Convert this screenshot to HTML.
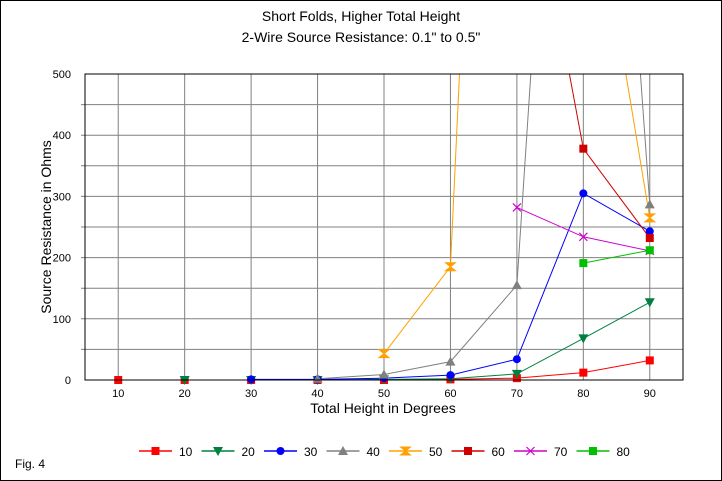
<!DOCTYPE html>
<html><head><meta charset="utf-8"><style>
body{margin:0;background:#fff}
svg{display:block;font-family:"Liberation Sans",Arial,sans-serif}
</style></head><body>
<svg id="c" width="722" height="481" viewBox="0 0 722 481">
<rect x="0.5" y="0.5" width="721" height="480" fill="#fff" stroke="#000"/>
<text x="361" y="21" text-anchor="middle" font-size="14">Short Folds, Higher Total Height</text>
<text x="361" y="42" text-anchor="middle" font-size="14">2-Wire Source Resistance: 0.1" to 0.5"</text>
<text x="383" y="413" text-anchor="middle" font-size="14">Total Height in Degrees</text>
<text transform="translate(51,227) rotate(-90)" text-anchor="middle" font-size="14">Source Resistance in Ohms</text>
<text x="15" y="468" font-size="12">Fig. 4</text>
<defs><clipPath id="pc"><rect x="85" y="74" width="598" height="306"/></clipPath></defs>
<g id="grid"></g>
<g id="series" clip-path="url(#pc)"></g>
<g id="markers"></g>
<rect x="85" y="74" width="598" height="306" fill="none" stroke="#000"/>
<g id="axes"></g>
<g id="legend"></g>
</svg>
<script>
const xTicks=[10,20,30,40,50,60,70,80,90];
const yTicks=[0,100,200,300,400,500];
const seriesNames=["10","20","30","40","50","60","70","80"];
const seriesColors=["#ff0000","#008040","#0000ff","#808080","#ffa000","#d00000","#d000d0","#00c000"];
const seriesMarkers=["square","tridown","circle","triup","hour","square","x","square"];
const s10x=[10,20,30,40,50,60,70,80,90], s10y=[0,0,0,0,0,1,3,12,32];
const s20x=[20,30,40,50,60,70,80,90], s20y=[0,0,0,1,2,10,68,127];
const s30x=[30,40,50,60,70,80,90], s30y=[1,1,3,8,34,305,243];
const s40x=[40,50,60,70,80,90], s40y=[2,9,30,155,1800,287];
const s50x=[50,60,70,80,90], s50y=[43,185,2500,918,265];
const s60x=[70,80,90], s60y=[960,378,232];
const s70x=[70,80,90], s70y=[282,234,211];
const s80x=[80,90], s80y=[191,212];
const seriesX=[s10x,s20x,s30x,s40x,s50x,s60x,s70x,s80x];
const seriesY=[s10y,s20y,s30y,s40y,s50y,s60y,s70y,s80y];
const NS="http://www.w3.org/2000/svg";
const X0=85,X1=683,Y0=380,Y1=74;
const xs=v=>X0+(v-5)/90*(X1-X0);
const ys=v=>Y0-v/500*(Y0-Y1);
function mk(t,a,p){const e=document.createElementNS(NS,t);for(const k in a)e.setAttribute(k,a[k]);p.appendChild(e);return e;}
const grid=document.getElementById('grid'),axes=document.getElementById('axes');
xTicks.forEach(v=>{
 const l=mk('line',{x1:xs(v),x2:xs(v),y1:Y1,y2:Y0,stroke:'#808080','stroke-width':1},grid);
 
 
 const t=mk('text',{x:xs(v),y:Y0+17,'text-anchor':'middle','font-size':11},axes);t.textContent=v;
 
 
});
for(let v=50;v<500;v+=50){
 const l=mk('line',{x1:X0-4,x2:X1,y1:ys(v),y2:ys(v),stroke:'#808080','stroke-width':1},grid);
 
 
}
yTicks.forEach(v=>{
 const t=mk('text',{x:X0-14,y:ys(v)+4,'text-anchor':'end','font-size':11},axes);t.textContent=v;
 
 
});
function marker(type,x,y,c,p){
 let e;
 if(type==='square')e=mk('rect',{x:x-4,y:y-4,width:8,height:8,fill:c},p);
 else if(type==='circle')e=mk('circle',{cx:x,cy:y,r:4,fill:c},p);
 else if(type==='triup')e=mk('polygon',{points:`${x},${y-5} ${x+5},${y+4} ${x-5},${y+4}`,fill:c},p);
 else if(type==='tridown')e=mk('polygon',{points:`${x-5},${y-4} ${x+5},${y-4} ${x},${y+5}`,fill:c},p);
 else if(type==='hour')e=mk('polygon',{points:`${x-5},${y-4} ${x+5},${y-4} ${x-5},${y+4} ${x+5},${y+4}`,fill:c,stroke:c},p);
 else e=mk('path',{d:`M${x-4},${y-4}L${x+4},${y+4}M${x+4},${y-4}L${x-4},${y+4}`,stroke:c,'stroke-width':1.2,fill:'none'},p);
 return e;
}
const sg=document.getElementById('series'),mg=document.getElementById('markers');
seriesNames.forEach((n,i)=>{
 const pts=seriesX[i].map((v,j)=>xs(v)+','+ys(seriesY[i][j])).join(' ');
 const pl=mk('polyline',{points:pts,fill:'none',stroke:seriesColors[i],'stroke-width':1},sg);
 
 
 seriesX[i].forEach((v,j)=>{
  const val=seriesY[i][j];
  if(val>500)return;
  const m=marker(seriesMarkers[i],xs(v),ys(val),seriesColors[i],mg);
  
  
 });
});
const lg=document.getElementById('legend');
seriesNames.forEach((n,i)=>{
 const bx=139+62.5*i,y=451;
 const g=mk('g',{},lg);
 
 
 mk('line',{x1:bx,x2:bx+33,y1:y,y2:y,stroke:seriesColors[i],'stroke-width':1.5},g);
 marker(seriesMarkers[i],bx+16.5,y,seriesColors[i],g);
 const t=mk('text',{x:bx+40,y:y+5,'font-size':12},g);t.textContent=n;
});
</script>
</body></html>
